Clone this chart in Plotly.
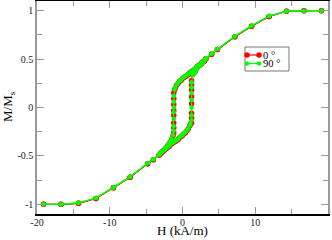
import plotly.graph_objects as go

# 0 degree series: descending branch then ascending branch
h0_desc = [19.1, 16.7, 14.3, 11.9, 9.5, 7.2, 4.8, 4.0, 3.2,
           3.0, 2.8, 2.6, 2.4, 2.2, 2.0, 1.8, 1.6, 1.4, 1.2, 1.0, 0.8, 0.6, 0.4, 0.2, 0.0,
           -0.2, -0.4, -0.6, -0.8, -1.0, -1.1,
           -1.2, -1.2, -1.2, -1.2, -1.2, -1.2, -1.2, -1.2,
           -1.3, -1.5, -1.7, -1.9, -2.1, -2.3, -2.5, -2.7, -2.9,
           -3.2, -4.0, -4.8, -7.2, -9.5, -11.9, -14.3, -16.7, -19.1]
m0_desc = [1.0, 1.0, 0.995, 0.94, 0.84, 0.73, 0.60, 0.55, 0.50,
           0.48, 0.47, 0.46, 0.44, 0.43, 0.42, 0.40, 0.39, 0.38, 0.37, 0.36, 0.34, 0.33, 0.32, 0.31, 0.30,
           0.28, 0.27, 0.25, 0.23, 0.20, 0.18,
           0.15, 0.09, 0.03, -0.03, -0.08, -0.16, -0.21, -0.26,
           -0.29, -0.33, -0.36, -0.38, -0.40, -0.42, -0.44, -0.45, -0.47,
           -0.49, -0.54, -0.58, -0.72, -0.83, -0.94, -0.99, -1.0, -1.0]
h0_asc = [-19.1, -16.7, -14.3, -11.9, -9.5, -7.2, -4.8, -4.0, -3.2,
          -3.0, -2.8, -2.6, -2.4, -2.2, -2.0, -1.8, -1.6, -1.4, -1.2, -1.0, -0.8, -0.6, -0.4, -0.2, 0.0,
          0.2, 0.4, 0.6, 0.8, 1.0, 1.1,
          1.25, 1.25, 1.25, 1.25, 1.25, 1.25, 1.25, 1.25,
          1.4, 1.6, 1.8, 2.0, 2.2, 2.4, 2.6, 2.8, 3.0,
          3.2, 4.0, 4.8, 7.2, 9.5, 11.9, 14.3, 16.7, 19.1]
m0_asc = [-1.0, -1.0, -0.99, -0.94, -0.83, -0.72, -0.58, -0.54, -0.49,
          -0.47, -0.46, -0.45, -0.43, -0.42, -0.41, -0.40, -0.38, -0.37, -0.36, -0.35, -0.34, -0.33, -0.31, -0.30, -0.29,
          -0.27, -0.26, -0.24, -0.22, -0.19, -0.17,
          -0.16, -0.11, -0.06, 0.04, 0.11, 0.18, 0.23, 0.28,
          0.34, 0.36, 0.38, 0.41, 0.43, 0.44, 0.45, 0.47, 0.48,
          0.50, 0.55, 0.60, 0.73, 0.84, 0.94, 0.995, 1.0, 1.0]

# 90 degree series
h90_desc = [19.1, 16.7, 14.3, 11.9, 9.5, 7.2, 4.8, 4.0, 3.2,
            3.0, 2.8, 2.6, 2.4, 2.2, 2.0, 1.8, 1.6, 1.4, 1.2, 1.0, 0.8, 0.6, 0.4, 0.2, 0.0,
            -0.2, -0.4, -0.6, -0.8, -1.0, -1.1,
            -1.2, -1.2, -1.2, -1.2, -1.2, -1.2, -1.2,
            -1.3, -1.5, -1.7, -1.9, -2.1, -2.3, -2.5, -2.7, -2.9,
            -3.2, -4.0, -4.8, -7.2, -9.5, -11.9, -14.3, -16.7, -19.1]
m90_desc = [1.0, 1.0, 0.995, 0.945, 0.845, 0.735, 0.605, 0.555, 0.505,
            0.485, 0.475, 0.465, 0.445, 0.435, 0.425, 0.405, 0.395, 0.385, 0.375, 0.365, 0.345, 0.335, 0.325, 0.315, 0.305,
            0.285, 0.275, 0.255, 0.235, 0.205, 0.185,
            0.12, 0.06, 0.0, -0.05, -0.12, -0.19, -0.24,
            -0.285, -0.325, -0.355, -0.375, -0.395, -0.415, -0.435, -0.445, -0.465,
            -0.485, -0.535, -0.575, -0.715, -0.825, -0.935, -0.985, -1.0, -1.0]
h90_asc = [-19.1, -16.7, -14.3, -11.9, -9.5, -7.2, -4.8, -4.0, -3.2,
           -3.0, -2.8, -2.6, -2.4, -2.2, -2.0, -1.8, -1.6, -1.4, -1.2, -1.0, -0.8, -0.6, -0.4, -0.2, 0.0,
           0.2, 0.4, 0.6, 0.8, 1.0, 1.1,
           1.25, 1.25, 1.25, 1.25, 1.25, 1.25, 1.25,
           1.4, 1.6, 1.8, 2.0, 2.2, 2.4, 2.6, 2.8, 3.0,
           3.2, 4.0, 4.8, 7.2, 9.5, 11.9, 14.3, 16.7, 19.1]
m90_asc = [-1.0, -1.0, -0.985, -0.935, -0.825, -0.715, -0.575, -0.535, -0.485,
           -0.465, -0.455, -0.445, -0.425, -0.415, -0.405, -0.395, -0.375, -0.365, -0.355, -0.345, -0.335, -0.325, -0.305, -0.295, -0.285,
           -0.265, -0.255, -0.235, -0.215, -0.185, -0.165,
           -0.13, -0.08, 0.0, 0.08, 0.15, 0.21, 0.26,
           0.335, 0.355, 0.375, 0.405, 0.425, 0.435, 0.445, 0.465, 0.485,
           0.505, 0.555, 0.605, 0.735, 0.845, 0.945, 0.995, 1.0, 1.0]

series_names = ["0 °", "90 °"]
x_ticks = [-20, -10, 0, 10, 20]
x_tick_text = ["-20", "-10", "0", "10", "20"]
y_ticks = [-1, -0.5, 0, 0.5, 1]
y_tick_text = ["-1", "-0.5", "0", "0.5", "1"]

RED = "#ff0000"
GREEN = "#00ff00"
FONT = "Liberation Serif, Times New Roman, serif"

W, H = 332, 240
ML, MR, MT, MB = 37, 4, 1, 26
PW, PH = W - ML - MR, H - MT - MB


def px_to_paper(px, py):
    return (px - ML) / PW, (H - MB - py) / PH


fig = go.Figure()
fig.add_trace(go.Scatter(
    x=h0_desc + [None] + h0_asc, y=m0_desc + [None] + m0_asc,
    mode="lines+markers", name=series_names[0],
    line=dict(color=RED, width=1.2),
    marker=dict(color=RED, size=5.5, symbol="circle"),
))
fig.add_trace(go.Scatter(
    x=h90_desc + [None] + h90_asc, y=m90_desc + [None] + m90_asc,
    mode="lines+markers", name=series_names[1],
    line=dict(color=GREEN, width=1.2),
    marker=dict(color=GREEN, size=4.5, symbol="circle"),
))

# custom compact legend (paper coordinates)
shapes = []
annotations = []
bx0, by0 = px_to_paper(245, 47)
bx1, by1 = px_to_paper(289, 71)
shapes.append(dict(type="rect", xref="paper", yref="paper", x0=bx0, y0=by1, x1=bx1, y1=by0,
                   line=dict(color="#777777", width=1), fillcolor="white", layer="above"))
rows = [(series_names[0], RED, 5.5, 55), (series_names[1], GREEN, 4.5, 63.5)]
for name, col, msize, ry in rows:
    lx0, ly = px_to_paper(247, ry)
    lx1, _ = px_to_paper(259, ry)
    shapes.append(dict(type="line", xref="paper", yref="paper", x0=lx0, y0=ly, x1=lx1, y1=ly,
                       line=dict(color=col, width=1.2), layer="above"))
    r = msize / 2
    for cx in (247, 259):
        c0x, c0y = px_to_paper(cx - r, ry + r)
        c1x, c1y = px_to_paper(cx + r, ry - r)
        shapes.append(dict(type="circle", xref="paper", yref="paper", x0=c0x, y0=c0y, x1=c1x, y1=c1y,
                           line=dict(color=col, width=0), fillcolor=col, layer="above"))
    tx, ty = px_to_paper(261, ry)
    annotations.append(dict(text=name, xref="paper", yref="paper", x=tx, y=ty,
                            xanchor="left", yanchor="middle", showarrow=False,
                            font=dict(family=FONT, size=10.5, color="black")))

# axis titles
tx, ty = px_to_paper(182, 230)
annotations.append(dict(text="H (kA/m)", xref="paper", yref="paper", x=tx, y=ty,
                        xanchor="center", yanchor="middle", showarrow=False,
                        font=dict(family=FONT, size=13, color="black")))
tx, ty = px_to_paper(8, 106)
annotations.append(dict(text="M/M<sub>s</sub>", xref="paper", yref="paper", x=tx, y=ty,
                        xanchor="center", yanchor="middle", showarrow=False, textangle=-90,
                        font=dict(family=FONT, size=13, color="black")))

fig.update_layout(
    width=W, height=H,
    margin=dict(l=ML, r=MR, t=MT, b=MB, autoexpand=False),
    paper_bgcolor="white", plot_bgcolor="white",
    font=dict(family=FONT, color="black", size=10),
    showlegend=False,
    shapes=shapes, annotations=annotations,
    xaxis=dict(
        range=[-20, 20], tickmode="array", tickvals=x_ticks, ticktext=x_tick_text,
        ticks="inside", ticklen=7, tickcolor="#999999", tickwidth=1,
        minor=dict(dtick=5, ticks="inside", ticklen=5, tickcolor="#999999", tickwidth=1),
        showline=True, linecolor="black", linewidth=1.5, mirror="allticks",
        showgrid=False, zeroline=False, automargin=False, ticklabelstandoff=-2,
        tickfont=dict(family=FONT, size=10, color="#222222"),
    ),
    yaxis=dict(
        range=[-1.1, 1.1], tickmode="array", tickvals=y_ticks, ticktext=y_tick_text,
        ticks="inside", ticklen=7, tickcolor="#999999", tickwidth=1,
        minor=dict(dtick=0.25, ticks="inside", ticklen=5, tickcolor="#999999", tickwidth=1),
        showline=True, linecolor="#999999", linewidth=1.5, mirror="allticks",
        showgrid=False, zeroline=False, automargin=False,
        tickfont=dict(family=FONT, size=10, color="#222222"),
    ),
)

fig.write_html("out.html", config={"displayModeBar": False},
               post_script="document.body.style.margin='0';document.body.style.padding='0';")
